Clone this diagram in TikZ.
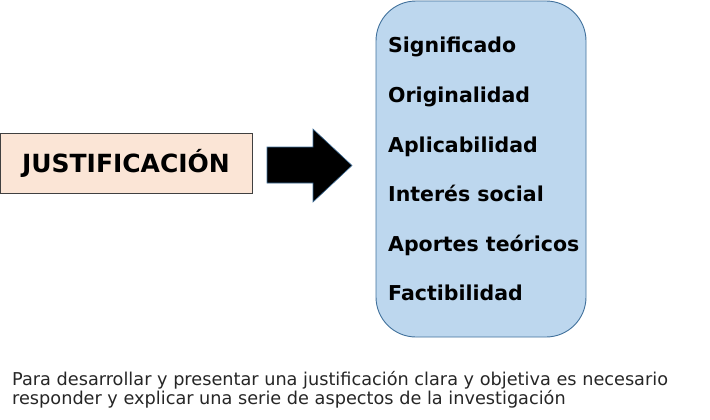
\documentclass[tikz,border=0pt]{standalone}
\usepackage{fontspec}
\setmainfont{DejaVu Sans}
\usepackage{tikz}
\usetikzlibrary{positioning}
\definecolor{peach}{HTML}{FBE5D6}
\definecolor{paleblue}{HTML}{BDD7EE}
\definecolor{edgeblue}{HTML}{41719C}

\begin{document}
\begin{tikzpicture}[
    x=1pt, y=-1pt,
    titlebox/.style={draw=black!75, fill=peach, line width=0.9pt,
                     minimum width=252pt, minimum height=60pt,
                     font=\bfseries\fontsize{25}{28}\selectfont},
    listbox/.style={draw=edgeblue, fill=paleblue, line width=0.9pt,
                    rounded corners=40pt, minimum width=210pt,
                    minimum height=336pt},
    item/.style={anchor=base west, inner sep=0pt,
                 font=\bfseries\fontsize{20.5}{23}\selectfont},
    note/.style={anchor=base west, align=left, inner sep=0pt,
                 text=black!85, font=\fontsize{17.7}{19}\selectfont},
]
  \useasboundingbox (0,0) rectangle (710,420);

  % Main nodes
  \node[titlebox] (just) at (126,163.5) {JUSTIFICACIÓN};
  \node[listbox] (list) at (481,169) {};

  % Block arrow
  \fill[black, draw=edgeblue, line width=0.6pt]
    (267,147) -- (313,147) -- (313,129) -- (352,165.5)
    -- (313,202) -- (313,183) -- (267,183) -- cycle;

  % Aspects
  \node[item] (sig) at (388,53) {Significado};
  \node[item,below=49.5pt of sig.base west,anchor=base west] (orig) {Originalidad};
  \node[item,below=49.5pt of orig.base west,anchor=base west] (apl) {Aplicabilidad};
  \node[item,below=49.5pt of apl.base west,anchor=base west] (soc) {Interés social};
  \node[item,below=49.5pt of soc.base west,anchor=base west] (teo) {Aportes teóricos};
  \node[item,below=49.5pt of teo.base west,anchor=base west] (fact) {Factibilidad};

  % Note (base = last line)
  \node[note] (txt) at (12,404)
    {Para desarrollar y presentar una justificación clara y objetiva es necesario\\
     responder y explicar una serie de aspectos de la investigación};
\end{tikzpicture}
\end{document}
